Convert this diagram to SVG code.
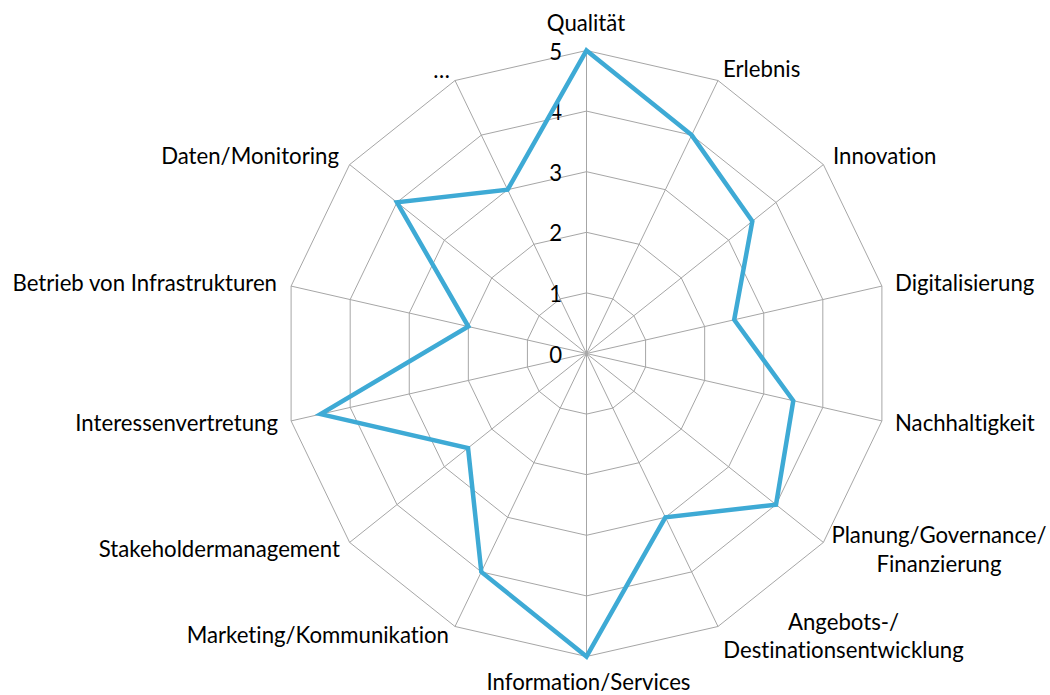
<svg xmlns="http://www.w3.org/2000/svg" width="1050" height="695" viewBox="0 0 1050 695">
<style>
.grid{fill:none;stroke:#a6a6a6;stroke-width:1}
.spoke{stroke:#a6a6a6;stroke-width:1}
.series{fill:none;stroke:#3eaad5;stroke-width:4.5;stroke-linejoin:miter}
text{font-family:Lato,"Liberation Sans",sans-serif;font-size:22.2px;fill:#000;font-variant-ligatures:none;font-feature-settings:"liga" 0}
.tick{text-anchor:end}
.s{text-anchor:start}
.e{text-anchor:end}
.m{text-anchor:middle}
</style>
<rect width="1050" height="695" fill="#fff"/>
<g id="grid">
<polygon class="grid" points="586.5,292.9 612.79,298.9 633.88,315.72 645.58,340.02 645.58,366.99 633.88,391.28 612.79,408.1 586.5,414.1 560.21,408.1 539.12,391.28 527.42,366.99 527.42,340.02 539.12,315.72 560.21,298.9"/>
<polygon class="grid" points="586.5,232.3 639.09,244.3 681.26,277.93 704.66,326.53 704.66,380.47 681.26,429.07 639.09,462.7 586.5,474.7 533.91,462.7 491.74,429.07 468.34,380.47 468.34,326.53 491.74,277.93 533.91,244.3"/>
<polygon class="grid" points="586.5,171.7 665.38,189.7 728.64,240.15 763.74,313.05 763.74,393.95 728.64,466.85 665.38,517.3 586.5,535.3 507.62,517.3 444.36,466.85 409.26,393.95 409.26,313.05 444.36,240.15 507.62,189.7"/>
<polygon class="grid" points="586.5,111.1 691.67,135.11 776.02,202.37 822.82,299.56 822.82,407.44 776.02,504.63 691.67,571.9 586.5,595.9 481.33,571.9 396.98,504.63 350.18,407.44 350.18,299.56 396.98,202.37 481.33,135.11"/>
<polygon class="grid" points="586.5,50.5 717.97,80.51 823.39,164.58 881.9,286.08 881.9,420.92 823.39,542.42 717.97,626.49 586.5,656.5 455.03,626.49 349.61,542.42 291.1,420.92 291.1,286.08 349.61,164.58 455.03,80.51"/>
</g>
<g id="connectors">
<line class="spoke" x1="586.5" y1="353.5" x2="586.5" y2="50.5"/>
<line class="spoke" x1="586.5" y1="353.5" x2="717.97" y2="80.51"/>
<line class="spoke" x1="586.5" y1="353.5" x2="823.39" y2="164.58"/>
<line class="spoke" x1="586.5" y1="353.5" x2="881.9" y2="286.08"/>
<line class="spoke" x1="586.5" y1="353.5" x2="881.9" y2="420.92"/>
<line class="spoke" x1="586.5" y1="353.5" x2="823.39" y2="542.42"/>
<line class="spoke" x1="586.5" y1="353.5" x2="717.97" y2="626.49"/>
<line class="spoke" x1="586.5" y1="353.5" x2="586.5" y2="656.5"/>
<line class="spoke" x1="586.5" y1="353.5" x2="455.03" y2="626.49"/>
<line class="spoke" x1="586.5" y1="353.5" x2="349.61" y2="542.42"/>
<line class="spoke" x1="586.5" y1="353.5" x2="291.1" y2="420.92"/>
<line class="spoke" x1="586.5" y1="353.5" x2="291.1" y2="286.08"/>
<line class="spoke" x1="586.5" y1="353.5" x2="349.61" y2="164.58"/>
<line class="spoke" x1="586.5" y1="353.5" x2="455.03" y2="80.51"/>
</g>
<g id="ticks">
<text class="tick" x="562" y="362.5">0</text>
<text class="tick" x="562" y="301.9">1</text>
<text class="tick" x="562" y="241.3">2</text>
<text class="tick" x="562" y="180.7">3</text>
<text class="tick" x="562" y="120.1">4</text>
<text class="tick" x="562" y="59.5">5</text>
</g>
<g id="series">
<polygon class="series" points="586.5,50.5 691.67,135.11 752.33,221.26 734.2,319.79 793.28,400.7 776.02,504.63 665.38,517.3 586.5,656.5 481.33,571.9 468.05,447.96 320.64,414.18 468.34,326.53 396.98,202.37 507.62,189.7"/>
</g>
<g id="n0"><text class="m" x="586" y="31">Qualität</text></g>
<g id="n1"><text class="s" x="723" y="77">Erlebnis</text></g>
<g id="n2"><text class="s" x="833" y="164">Innovation</text></g>
<g id="n3"><text class="s" x="895" y="290.5">Digitalisierung</text></g>
<g id="n4"><text class="s" x="895" y="431">Nachhaltigkeit</text></g>
<g id="n5"><text class="m" x="939" y="543">Planung/Governance/</text><text class="m" x="939" y="571.5">Finanzierung</text></g>
<g id="n6"><text class="m" x="843.5" y="630">Angebots-/</text><text class="m" x="843.5" y="658">Destinationsentwicklung</text></g>
<g id="n7"><text class="m" x="588.5" y="689.5">Information/Services</text></g>
<g id="n8"><text class="e" x="449" y="643">Marketing/Kommunikation</text></g>
<g id="n9"><text class="e" x="340" y="557">Stakeholdermanagement</text></g>
<g id="n10"><text class="e" x="278" y="431">Interessenvertretung</text></g>
<g id="n11"><text class="e" x="277" y="291">Betrieb von Infrastrukturen</text></g>
<g id="n12"><text class="e" x="339" y="164">Daten/Monitoring</text></g>
<g id="n13"><text class="e" x="450" y="78">…</text></g>
</svg>
